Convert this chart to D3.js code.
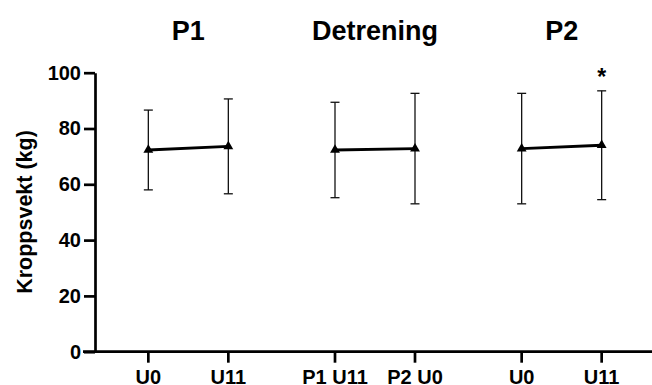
<!DOCTYPE html>
<html>
<head>
<meta charset="utf-8">
<script src="https://cdn.jsdelivr.net/npm/d3@7"></script>
<style>
  html, body { margin: 0; padding: 0; background: #fff; }
  svg text { font-family: "Liberation Sans", Arial, sans-serif; font-weight: bold; fill: #000; }
</style>
</head>
<body>
<svg id="chart" width="652" height="385"></svg>
<script>
// Body weight (kg), mean ± SD, per period and time point
const groups = ["P1", "Detrening", "P2"];
const timepoints = [["U0", "U11"], ["P1 U11", "P2 U0"], ["U0", "U11"]];
const means = [[72.3, 73.6], [72.3, 72.8], [72.8, 74.0]];
const sds = [[14.3, 17.0], [17.1, 19.8], [19.8, 19.5]];
const marks = [["", ""], ["", ""], ["", "*"]];
const yTicks = [0, 20, 40, 60, 80, 100];
const yTitle = "Kroppsvekt (kg)";

const svg = d3.select("#chart");
const axisX = 95, axisY0 = 351.7, axisY1 = 72.7;

const y = d3.scaleLinear().domain([0, 100]).range([axisY0, axisY1]);
const gx = d3.scaleBand().domain(groups).range([95, 655]).paddingInner(0).paddingOuter(0);
const px = d3.scalePoint().domain([0, 1]).range([-40, 40]);
const xPos = (g, i) => gx(groups[g]) + gx.bandwidth() / 2 + px(i);

// Flatten the nested structure for drawing
const points = [];
groups.forEach((g, gi) => {
  timepoints[gi].forEach((t, ti) => {
    points.push({ g: gi, t: ti, label: t, mean: means[gi][ti], sd: sds[gi][ti], mark: marks[gi][ti] });
  });
});

// Y axis
const yAxis = d3.axisLeft(y).tickValues(yTicks).tickSize(11).tickPadding(3).tickSizeOuter(0);
const ya = svg.append("g").attr("transform", `translate(${axisX},0)`).call(yAxis);
ya.select(".domain").attr("stroke", "#000").attr("stroke-width", 2.7);
ya.selectAll(".tick line").attr("stroke", "#000").attr("stroke-width", 2.7);
ya.selectAll(".tick text").style("font-size", "20px").attr("fill", "#000")
  .attr("font-family", null);

// X axis baseline
svg.append("line")
  .attr("x1", 83).attr("x2", 652)
  .attr("y1", axisY0).attr("y2", axisY0)
  .attr("stroke", "#000").attr("stroke-width", 2.7);

// X ticks and labels
const xt = svg.append("g").selectAll("g").data(points).join("g")
  .attr("transform", d => `translate(${xPos(d.g, d.t)},${axisY0})`);
xt.append("line").attr("y1", 0).attr("y2", 11).attr("stroke", "#000").attr("stroke-width", 2.7);
xt.append("text").attr("y", 32.3).attr("text-anchor", "middle")
  .style("font-size", "20px").text(d => d.label);

// Group titles
svg.append("g").selectAll("text").data(groups).join("text")
  .attr("x", g => gx(g) + gx.bandwidth() / 2)
  .attr("y", 40)
  .attr("text-anchor", "middle")
  .style("font-size", "27px")
  .text(g => g);

// Y axis title
svg.append("text")
  .attr("transform", `translate(32,212) rotate(-90)`)
  .attr("text-anchor", "middle")
  .style("font-size", "21.5px")
  .text(yTitle);

// Error bars
const eb = svg.append("g").selectAll("g").data(points).join("g")
  .attr("transform", d => `translate(${xPos(d.g, d.t)},0)`);
eb.append("line")
  .attr("y1", d => y(d.mean + d.sd)).attr("y2", d => y(d.mean - d.sd))
  .attr("stroke", "#111").attr("stroke-width", 1.3);
eb.append("line")
  .attr("x1", -4.5).attr("x2", 4.5)
  .attr("y1", d => y(d.mean + d.sd)).attr("y2", d => y(d.mean + d.sd))
  .attr("stroke", "#111").attr("stroke-width", 1.3);
eb.append("line")
  .attr("x1", -4.5).attr("x2", 4.5)
  .attr("y1", d => y(d.mean - d.sd)).attr("y2", d => y(d.mean - d.sd))
  .attr("stroke", "#111").attr("stroke-width", 1.3);

// Mean lines within each period
const line = d3.line().x(d => xPos(d.g, d.t)).y(d => y(d.mean));
svg.append("g").selectAll("path").data(groups.map((g, gi) => points.filter(p => p.g === gi))).join("path")
  .attr("d", line)
  .attr("fill", "none")
  .attr("stroke", "#000")
  .attr("stroke-width", 2.8);

// Triangle markers
svg.append("g").selectAll("path").data(points).join("path")
  .attr("transform", d => `translate(${xPos(d.g, d.t)},${y(d.mean)})`)
  .attr("d", d3.symbol(d3.symbolTriangle, 42))
  .attr("fill", "#000");

// Significance marks
svg.append("g").selectAll("text").data(points.filter(p => p.mark)).join("text")
  .attr("x", d => xPos(d.g, d.t))
  .attr("y", d => y(d.mean + d.sd) - 6)
  .attr("text-anchor", "middle")
  .style("font-size", "23px")
  .text(d => d.mark);
</script>
</body>
</html>
